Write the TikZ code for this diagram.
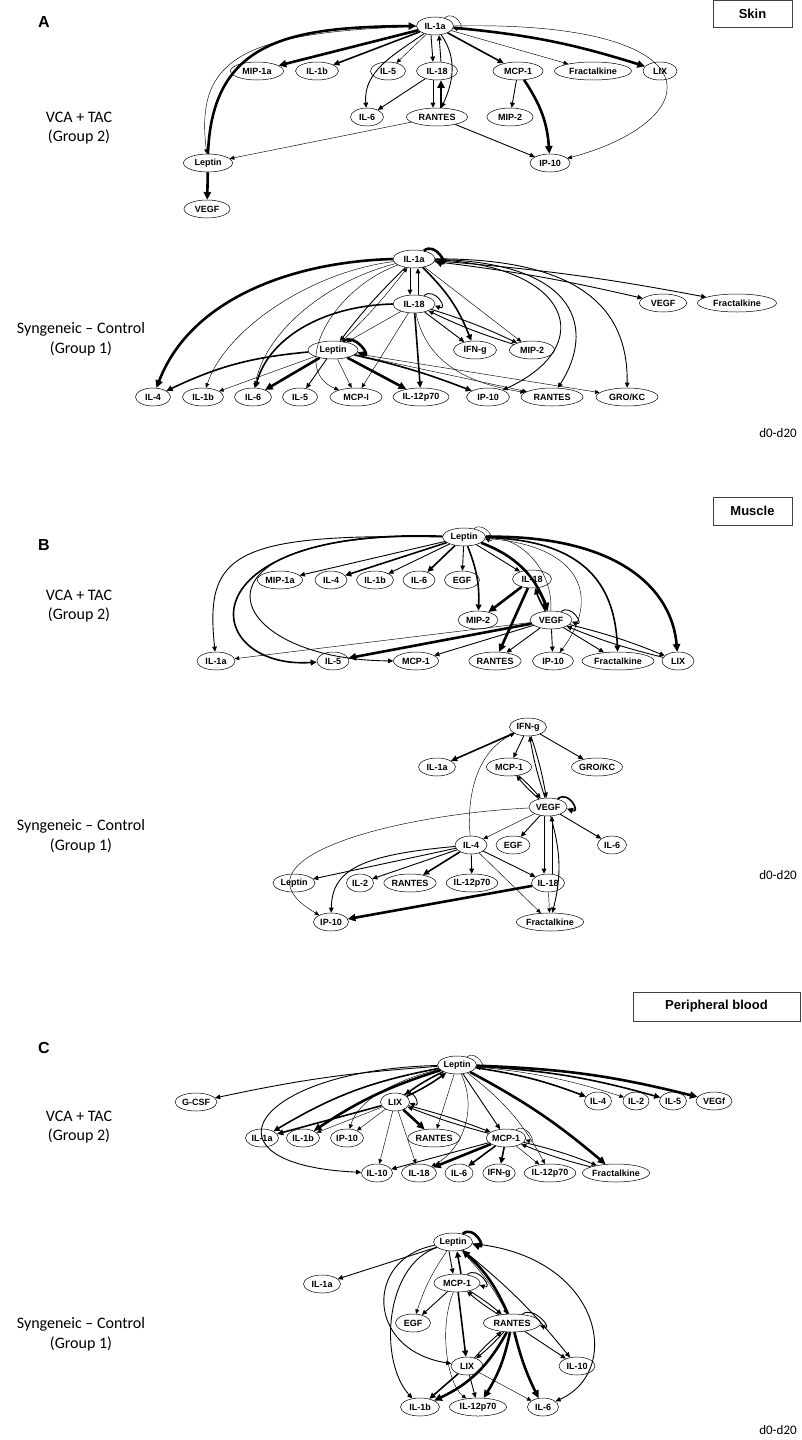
\documentclass[tikz,border=0pt]{standalone}
\usepackage{fontspec}
\setmainfont{Liberation Sans}
\newfontfamily\carl{Carlito}
\usetikzlibrary{arrows.meta,shapes.geometric}
\newcommand\nfA{\fontsize{9}{10}\selectfont\bfseries}
\newcommand\nfB{\fontsize{7.5}{8.5}\selectfont\bfseries}
\newcommand\nfC{\fontsize{7}{8}\selectfont\bfseries}
\newcommand\nfD{\fontsize{8.5}{9.5}\selectfont\bfseries}
\begin{document}
\begin{tikzpicture}[x=1pt,y=-1pt,
  nd/.style={ellipse,draw,line width=0.5pt,inner sep=0pt,minimum height=18pt,font=\nfA},
  tip/.style={-{Triangle[length=3.8pt 1.5,width=3.3pt 1.5]}},
  e0/.style={tip,line width=0.45pt},
  e1/.style={tip,line width=0.9pt},
  e2/.style={tip,line width=1.6pt},
  e3/.style={tip,line width=2.6pt},
  grp/.style={font=\carl\fontsize{16}{18}\selectfont,inner sep=0pt},
  pan/.style={font=\bfseries\fontsize{16}{18}\selectfont,inner sep=0pt},
  dd/.style={font=\carl\fontsize{13}{15}\selectfont,inner sep=0pt},
  tbox/.style={draw=black!75,line width=0.8pt,font=\bfseries\fontsize{13}{15}\selectfont,inner sep=0pt}
]
\useasboundingbox (0,0) rectangle (801,1440);
\fill[white] (0,0) rectangle (801,1440);

% ---------- labels ----------
\node[pan] (lA) at (44,22) {A};
\node[pan] (lB) at (44,545) {B};
\node[pan] (lC) at (44,1048) {C};
\node[tbox,minimum width=79pt,minimum height=27pt] (skin) at (752.5,13.5) {Skin};
\node[tbox,minimum width=79pt,minimum height=28pt] (muscle) at (752.5,511) {Muscle};
\node[tbox,minimum width=167pt,minimum height=29pt] (pblood) at (716.5,1006.5) {Peripheral blood};
\node[grp] (g1a) at (79,117) {VCA + TAC};
\node[grp] (g1b) at (79,137) {(Group 2)};
\node[grp] (g2a) at (81,329) {Syngeneic – Control};
\node[grp] (g2b) at (81,349) {(Group 1)};
\node[grp] (g3a) at (79,595) {VCA + TAC};
\node[grp] (g3b) at (79,615) {(Group 2)};
\node[grp] (g4a) at (81,826) {Syngeneic – Control};
\node[grp] (g4b) at (81,846) {(Group 1)};
\node[grp] (g5a) at (79,1116) {VCA + TAC};
\node[grp] (g5b) at (79,1136) {(Group 2)};
\node[grp] (g6a) at (81,1324) {Syngeneic – Control};
\node[grp] (g6b) at (81,1344) {(Group 1)};
\node[dd] (d1) at (778,433) {d0-d20};
\node[dd] (d2) at (778,875) {d0-d20};
\node[dd] (d3) at (778,1430) {d0-d20};

% ---------- Panel A top ----------
\begin{scope}[every node/.append style={minimum height=20pt}]
\node[nd,minimum width=37pt] (p1il1a) at (435,26) {IL-1a};
\node[nd,minimum width=53pt] (p1mip1a) at (257,71) {MIP-1a};
\node[nd,minimum width=43pt] (p1il1b) at (317,71) {IL-1b};
\node[nd,minimum width=35pt] (p1il5) at (388,71) {IL-5};
\node[nd,minimum width=41pt] (p1il18) at (437,71) {IL-18};
\node[nd,minimum width=50pt] (p1mcp1) at (518,71) {MCP-1};
\node[nd,minimum width=77pt] (p1frac) at (593,71) {Fractalkine};
\node[nd,minimum width=34pt] (p1lix) at (660,71) {LIX};
\node[nd,minimum width=33pt] (p1il6) at (367,117) {IL-6};
\node[nd,minimum width=61pt] (p1rantes) at (437,117) {RANTES};
\node[nd,minimum width=46pt] (p1mip2) at (510,117) {MIP-2};
\node[nd,minimum width=49pt] (p1lep) at (208,163) {Leptin};
\node[nd,minimum width=40pt] (p1ip10) at (550,163) {IP-10};
\node[nd,minimum width=46pt] (p1vegf) at (207,209) {VEGF};
\end{scope}
\draw[e0] (p1il1a.40) .. controls +(40:15pt) and +(-20:15pt) .. (p1il1a.-5);
\draw[e3] (p1il1a) -- (p1mip1a);
\draw[e2] (p1il1a) -- (p1il1b);
\draw[e0] (p1il1a) -- (p1il5);
\draw[e1] (p1il1a) to[out=215,in=95] (p1il6);
\draw[e1] ([xshift=-4pt]p1il1a.south) -- ([xshift=-4pt]p1il18.north);
\draw[e1] ([xshift=4pt]p1il18.north) -- ([xshift=4pt]p1il1a.south);
\draw[e1] (p1il1a) to[out=-55,in=65] (p1rantes);
\draw[e2] (p1il1a) -- (p1mcp1);
\draw[e0] (p1il1a) -- (p1frac);
\draw[e3] (p1il1a) to[bend left=6] (p1lix);
\draw[e0] (p1il1a.east) .. controls (720,20) and (710,120) .. (p1ip10);
\draw[e3] (p1lep.north) .. controls (212,40) and (290,27) .. (p1il1a.west);
\draw[e0] (p1il1a) .. controls (240,32) and (195,60) .. (p1lep);
\draw[e3] (p1lep) -- (p1vegf);
\draw[e0] (p1rantes) -- (p1lep);
\draw[e3] ([xshift=4pt]p1rantes.north) -- ([xshift=4pt]p1il18.south);
\draw[e1] ([xshift=-4pt]p1il18.south) -- ([xshift=-4pt]p1rantes.north);
\draw[e1] (p1il18) -- (p1il6);
\draw[e1] (p1rantes) -- (p1ip10);
\draw[e1] (p1mcp1) -- (p1mip2);
\draw[e3] (p1mcp1) to[bend left=15] (p1ip10);

% ---------- Panel A bottom ----------
\node[nd,minimum width=42pt] (p2il1a) at (414,259) {IL-1a};
\node[nd,minimum width=42pt] (p2il18) at (414,304) {IL-18};
\node[nd,minimum width=50pt] (p2lep) at (333,350) {Leptin};
\node[nd,minimum width=43pt] (p2ifng) at (475,350) {IFN-g};
\node[nd,minimum width=45pt] (p2mip2) at (532,350) {MIP-2};
\node[nd,minimum width=47pt] (p2vegf) at (663,303) {VEGF};
\node[nd,minimum width=79pt] (p2frac) at (737,303) {Fractalkine};
\node[nd,minimum width=35pt] (p2il4) at (153,397) {IL-4};
\node[nd,minimum width=41pt] (p2il1b) at (203,397) {IL-1b};
\node[nd,minimum width=37pt] (p2il6) at (253,397) {IL-6};
\node[nd,minimum width=35pt] (p2il5) at (300,397) {IL-5};
\node[nd,minimum width=52pt] (p2mcp) at (356,397) {MCP-I};
\node[nd,minimum width=56pt] (p2il12) at (421,397) {IL-12p70};
\node[nd,minimum width=43pt] (p2ip10) at (488,397) {IP-10};
\node[nd,minimum width=62pt] (p2rantes) at (552,397) {RANTES};
\node[nd,minimum width=62pt] (p2gro) at (627,397) {GRO/KC};
\draw[e3] (p2il1a.40) .. controls +(40:15pt) and +(-20:15pt) .. (p2il1a.-5);
\draw[e1] ([xshift=-4pt]p2il1a.south) -- ([xshift=-4pt]p2il18.north);
\draw[e1] ([xshift=4pt]p2il18.north) -- ([xshift=4pt]p2il1a.south);
\draw[e1] (p2il18.40) .. controls +(40:15pt) and +(-20:15pt) .. (p2il18.-5);
\draw[e3] (p2il1a.west) .. controls (290,262) and (190,300) .. (p2il4);
\draw[e0] (p2il1a) .. controls (310,272) and (225,330) .. (p2il1b);
\draw[e0] (p2il1a) .. controls (330,280) and (265,330) .. (p2il6);
\draw[e0] (p2il1a) .. controls (330,290) and (290,370) .. (p2mcp);
\draw[e1] (p2il1a) to[bend right=4] (p2lep);
\draw[e0] (p2lep) to[bend right=4] (p2il1a);
\draw[e2] (p2il18.west) .. controls (320,306) and (268,340) .. (p2il6);
\draw[e0] (p2il18) -- (p2lep);
\draw[e0] (p2il18) -- (p2mcp);
\draw[e2] (p2il18) -- (p2il12);
\draw[e1] (p2il18) -- (p2ifng);
\draw[e1] (p2il18) to[bend left=4] (p2mip2);
\draw[e1] (p2mip2) to[bend left=4] (p2il18);
\draw[e0] (p2il18) .. controls (428,370) and (480,385) .. (p2rantes);
\draw[e2] (p2il1a) to[bend left=12] (p2ifng);
\draw[e0] (p2il1a) -- (p2mip2);
\draw[e1] (p2il1a) .. controls (570,265) and (600,345) .. (p2ip10);
\draw[e1] (p2il1a) .. controls (580,262) and (595,330) .. (p2rantes);
\draw[e1] (p2il1a) .. controls (595,258) and (628,320) .. (p2gro);
\draw[e1] (p2il1a) to[bend left=3] (p2vegf);
\draw[e1] (p2il1a) to[bend left=3] (p2frac);
\draw[e3] (p2lep.40) .. controls +(40:15pt) and +(-20:15pt) .. (p2lep.-5);
\draw[e2] (p2lep) to[bend right=10] (p2il4);
\draw[e0] (p2lep) -- (p2il1b);
\draw[e3] (p2lep) -- (p2il6);
\draw[e1] (p2lep) -- (p2il5);
\draw[e0] (p2lep) -- (p2mcp);
\draw[e3] (p2lep) -- (p2il12);
\draw[e2] (p2lep) to[bend left=4] (p2ip10);
\draw[e0] (p2lep) -- (p2rantes);
\draw[e0] (p2lep) -- (p2gro);

% ---------- Panel B top ----------
\begin{scope}[every node/.append style={minimum height=17pt,font=\nfB}]
\node[nd,minimum width=43pt] (p3lep) at (464,537) {Leptin};
\node[nd,minimum width=45pt] (p3mip1a) at (280,580) {MIP-1a};
\node[nd,minimum width=32pt] (p3il4) at (331,580) {IL-4};
\node[nd,minimum width=37pt] (p3il1b) at (375,580) {IL-1b};
\node[nd,minimum width=32pt] (p3il6) at (419,580) {IL-6};
\node[nd,minimum width=35pt] (p3egf) at (462,580) {EGF};
\node[nd,minimum width=39pt] (p3il18) at (532,579) {IL-18};
\node[nd,minimum width=40pt] (p3mip2) at (478,620) {MIP-2};
\node[nd,minimum width=42pt] (p3vegf) at (551,620) {VEGF};
\node[nd,minimum width=38pt] (p3il1a) at (216,661) {IL-1a};
\node[nd,minimum width=32pt] (p3il5) at (333,661) {IL-5};
\node[nd,minimum width=45pt] (p3mcp1) at (416,661) {MCP-1};
\node[nd,minimum width=52pt] (p3rantes) at (495,661) {RANTES};
\node[nd,minimum width=41pt] (p3ip10) at (553,661) {IP-10};
\node[nd,minimum width=72pt] (p3frac) at (618,661) {Fractalkine};
\node[nd,minimum width=32pt] (p3lix) at (678,661) {LIX};
\end{scope}
\draw[e0] (p3lep.40) .. controls +(40:14pt) and +(-20:14pt) .. (p3lep.-5);
\draw[e1] (p3lep) -- (p3mip1a);
\draw[e2] (p3lep) -- (p3il4);
\draw[e1] (p3lep) -- (p3il1b);
\draw[e2] (p3lep) -- (p3il6);
\draw[e1] (p3lep) -- (p3egf);
\draw[e1] (p3lep) -- (p3il18);
\draw[e2] (p3lep) to[bend left=12] (p3mip2);
\draw[e3] (p3lep) to[bend left=25] (p3vegf);
\draw[e0] (p3vegf) to[bend right=45] (p3lep);
\draw[e0] (p3lep) .. controls (585,545) and (600,600) .. (p3ip10);
\draw[e2] (p3lep) .. controls (590,540) and (615,590) .. (p3frac);
\draw[e3] (p3lep) .. controls (620,535) and (672,590) .. (p3lix);
\draw[e1] (p3lep.west) .. controls (230,533) and (205,555) .. (p3il1a);
\draw[e2] (p3lep) .. controls (180,527) and (200,670) .. (p3il5);
\draw[e1] (p3lep) .. controls (170,530) and (220,660) .. (p3mcp1);
\draw[e3] (p3il18) -- (p3mip2);
\draw[e3] (p3il18) -- (p3rantes);
\draw[e3] (p3il18) to[bend left=6] (p3vegf);
\draw[e2] (p3vegf) to[bend left=6] (p3il18);
\draw[e1] (p3vegf.40) .. controls +(40:14pt) and +(-20:14pt) .. (p3vegf.-5);
\draw[e0] (p3vegf) -- (p3il1a);
\draw[e3] (p3vegf) -- (p3il5);
\draw[e1] (p3vegf) -- (p3mcp1);
\draw[e1] (p3vegf) -- (p3rantes);
\draw[e1] (p3vegf) -- (p3ip10);
\draw[e1] (p3vegf) -- (p3frac);
\draw[e1] (p3vegf) to[bend left=4] (p3lix);
\draw[e1] (p3lix) to[bend left=4] (p3vegf);

% ---------- Panel B bottom ----------
\begin{scope}[every node/.append style={font=\nfB}]
\node[nd,minimum width=37pt] (p4ifng) at (528,727) {IFN-g};
\node[nd,minimum width=37pt] (p4il1a) at (437,767) {IL-1a};
\node[nd,minimum width=45pt] (p4mcp1) at (509,767) {MCP-1};
\node[nd,minimum width=50pt] (p4gro) at (597,767) {GRO/KC};
\node[nd,minimum width=38pt] (p4vegf) at (548,807) {VEGF};
\node[nd,minimum width=32pt] (p4il4) at (471,845) {IL-4};
\node[nd,minimum width=34pt] (p4egf) at (513,845) {EGF};
\node[nd,minimum width=29pt] (p4il6) at (612,845) {IL-6};
\node[nd,minimum width=42pt] (p4lep) at (294,883) {Leptin};
\node[nd,minimum width=27pt] (p4il2) at (360,883) {IL-2};
\node[nd,minimum width=50pt] (p4rantes) at (410,883) {RANTES};
\node[nd,minimum width=47pt] (p4il12) at (472,883) {IL-12p70};
\node[nd,minimum width=33pt] (p4il18) at (548,883) {IL-18};
\node[nd,minimum width=35pt] (p4ip10) at (331,922) {IP-10};
\node[nd,minimum width=66pt] (p4frac) at (550,922) {Fractalkine};
\end{scope}
\draw[e2] (p4ifng) -- (p4il1a);
\draw[e1] (p4ifng) -- (p4mcp1);
\draw[e1] (p4ifng) -- (p4gro);
\draw[e1] (p4ifng) to[bend left=4] (p4vegf);
\draw[e1] (p4vegf) to[bend left=4] (p4ifng);
\draw[e1] (p4mcp1) to[bend left=4] (p4vegf);
\draw[e1] (p4vegf) to[bend left=4] (p4mcp1);
\draw[e2] (p4vegf.40) .. controls +(40:15pt) and +(-20:15pt) .. (p4vegf.-5);
\draw[e0] (p4vegf) .. controls (390,815) and (225,860) .. (p4ip10);
\draw[e0] (p4vegf) -- (p4il4);
\draw[e1] (p4vegf) -- (p4egf);
\draw[e1] (p4vegf) -- (p4il6);
\draw[e1] ([xshift=-4pt]p4vegf.south) -- ([xshift=-4pt]p4il18.north);
\draw[e1] ([xshift=4pt]p4il18.north) -- ([xshift=4pt]p4vegf.south);
\draw[e1] (p4vegf) to[bend left=15] (p4frac);
\draw[e0] (p4il4) .. controls (466,790) and (480,750) .. (p4ifng);
\draw[e1] (p4il4) -- (p4lep);
\draw[e1] (p4il4) .. controls (360,855) and (332,870) .. (p4ip10);
\draw[e1] (p4il4) -- (p4il2);
\draw[e2] (p4il4) -- (p4rantes);
\draw[e1] (p4il4) -- (p4il12);
\draw[e1] (p4il4) -- (p4il18);
\draw[e0] (p4il4) -- (p4frac);
\draw[e3] (p4il18) -- (p4ip10);
\draw[e0] (p4il18) -- (p4frac);

% ---------- Panel C top ----------
\begin{scope}[every node/.append style={minimum height=16pt,font=\nfC}]
\node[nd,minimum width=39pt] (p5lep) at (457,1065) {Leptin};
\node[nd,minimum width=42pt] (p5gcsf) at (196,1102) {G-CSF};
\node[nd,minimum width=29pt] (p5lix) at (395,1102) {LIX};
\node[nd,minimum width=27pt] (p5il4) at (598,1101) {IL-4};
\node[nd,minimum width=26pt] (p5il2) at (636,1101) {IL-2};
\node[nd,minimum width=27pt] (p5il5) at (673,1101) {IL-5};
\node[nd,minimum width=36pt] (p5vegf) at (714,1101) {VEGf};
\node[nd,minimum width=33pt] (p5il1a) at (262,1138) {IL-1a};
\node[nd,minimum width=33pt] (p5il1b) at (303,1138) {IL-1b};
\node[nd,minimum width=33pt] (p5ip10) at (347,1138) {IP-10};
\node[nd,minimum width=48pt] (p5rantes) at (434,1138) {RANTES};
\node[nd,minimum width=39pt] (p5mcp1) at (506,1138) {MCP-1};
\node[nd,minimum width=31pt] (p5il10) at (377,1173) {IL-10};
\node[nd,minimum width=35pt] (p5il18) at (419,1173) {IL-18};
\node[nd,minimum width=28pt] (p5il6) at (459,1173) {IL-6};
\node[nd,minimum width=32pt] (p5ifng) at (499,1173) {IFN-g};
\node[nd,minimum width=46pt] (p5il12) at (550,1173) {IL-12p70};
\node[nd,minimum width=61pt] (p5frac) at (616,1173) {Fractalkine};
\end{scope}
\draw[e0] (p5lep.40) .. controls +(40:13pt) and +(-20:13pt) .. (p5lep.-5);
\draw[e1] (p5lep) to[bend right=4] (p5gcsf);
\draw[e2] (p5lep) to[bend right=10] (p5il1a);
\draw[e3] (p5lep) to[bend right=8] (p5il1b);
\draw[e1] (p5lep) .. controls (250,1070) and (195,1165) .. (p5il10);
\draw[e2] (p5lep) to[bend right=5] (p5lix);
\draw[e2] (p5lix) to[bend right=5] (p5lep);
\draw[e0] (p5lep) .. controls (395,1080) and (358,1100) .. (p5ip10);
\draw[e0] (p5lep) -- (p5rantes);
\draw[e0] (p5lep) .. controls (478,1110) and (462,1150) .. (p5il18);
\draw[e1] (p5lep) -- (p5mcp1);
\draw[e0] (p5lep) to[bend left=12] (p5il12);
\draw[e3] (p5lep) to[bend left=6] (p5frac);
\draw[e2] (p5lep) to[bend left=6] (p5il4);
\draw[e0] (p5lep) to[bend left=6] (p5il2);
\draw[e2] (p5lep) to[bend left=6] (p5il5);
\draw[e3] (p5lep) to[bend left=6] (p5vegf);
\draw[e1] (p5lix.40) .. controls +(40:13pt) and +(-20:13pt) .. (p5lix.-5);
\draw[e2] (p5lix) -- (p5il1a);
\draw[e0] (p5lix) -- (p5il1b);
\draw[e0] (p5lix) -- (p5ip10);
\draw[e3] (p5lix) -- (p5rantes);
\draw[e1] (p5lix) to[bend left=3] (p5mcp1);
\draw[e1] (p5mcp1) to[bend left=3] (p5lix);
\draw[e0] (p5lix) -- (p5il10);
\draw[e0] (p5lix) -- (p5il18);
\draw[e0] (p5mcp1.40) .. controls +(40:13pt) and +(-20:13pt) .. (p5mcp1.-5);
\draw[e1] (p5mcp1) -- (p5il10);
\draw[e3] (p5mcp1) -- (p5il18);
\draw[e2] (p5mcp1) -- (p5il6);
\draw[e2] (p5mcp1) -- (p5ifng);
\draw[e0] (p5mcp1) -- (p5il12);
\draw[e1] (p5mcp1) to[bend left=4] (p5frac);
\draw[e1] (p5frac) to[bend left=4] (p5mcp1);

% ---------- Panel C bottom ----------
\begin{scope}[every node/.append style={minimum height=17pt,font=\nfD}]
\node[nd,minimum width=39pt] (p6lep) at (453,1242) {Leptin};
\node[nd,minimum width=37pt] (p6il1a) at (322,1284) {IL-1a};
\node[nd,minimum width=46pt] (p6mcp1) at (457,1283) {MCP-1};
\node[nd,minimum width=35pt] (p6egf) at (413,1323) {EGF};
\node[nd,minimum width=57pt] (p6rantes) at (512,1323) {RANTES};
\node[nd,minimum width=32pt] (p6lix) at (467,1366) {LIX};
\node[nd,minimum width=36pt] (p6il10) at (577,1366) {IL-10};
\node[nd,minimum width=39pt] (p6il1b) at (420,1407) {IL-1b};
\node[nd,minimum width=57pt] (p6il12) at (478,1407) {IL-12p70};
\node[nd,minimum width=31pt] (p6il6) at (543,1407) {IL-6};
\end{scope}
\draw[e3] (p6lep.40) .. controls +(40:15pt) and +(-20:15pt) .. (p6lep.-5);
\draw[e1] (p6lep) -- (p6il1a);
\draw[e1] ([xshift=-4pt]p6lep.south) -- ([xshift=-4pt]p6mcp1.north);
\draw[e2] ([xshift=4pt]p6mcp1.north) -- ([xshift=4pt]p6lep.south);
\draw[e0] (p6lep) to[bend right=8] (p6egf);
\draw[e0] (p6lep) to[bend left=8] (p6rantes);
\draw[e1] (p6lep) to[bend left=6] (p6il10);
\draw[e1] (p6lep) .. controls (600,1255) and (625,1370) .. (p6il6);
\draw[e1] (p6lep) .. controls (385,1265) and (378,1360) .. (p6il1b);
\draw[e1] (p6lep) .. controls (365,1258) and (365,1350) .. (p6lix);
\draw[e3] (p6rantes) to[bend right=12] (p6lep);
\draw[e1] (p6mcp1.40) .. controls +(40:15pt) and +(-20:15pt) .. (p6mcp1.-5);
\draw[e1] (p6mcp1) -- (p6egf);
\draw[e1] (p6mcp1) to[bend left=4] (p6rantes);
\draw[e1] (p6rantes) to[bend left=4] (p6mcp1);
\draw[e2] (p6mcp1) -- (p6lix);
\draw[e0] (p6mcp1) .. controls (438,1330) and (448,1385) .. (p6il12);
\draw[e1] (p6rantes.40) .. controls +(40:15pt) and +(-20:15pt) .. (p6rantes.-5);
\draw[e1] (p6rantes) to[bend left=4] (p6lix);
\draw[e1] (p6lix) to[bend left=4] (p6rantes);
\draw[e1] (p6rantes) -- (p6il10);
\draw[e3] (p6rantes) to[bend left=18] (p6il1b);
\draw[e3] (p6rantes) to[bend left=10] (p6il12);
\draw[e3] (p6rantes) to[bend right=6] (p6il6);
\draw[e2] (p6lix) -- (p6il1b);
\draw[e1] (p6lix) -- (p6il12);
\draw[e0] (p6lix) -- (p6il6);
\end{tikzpicture}
\end{document}
